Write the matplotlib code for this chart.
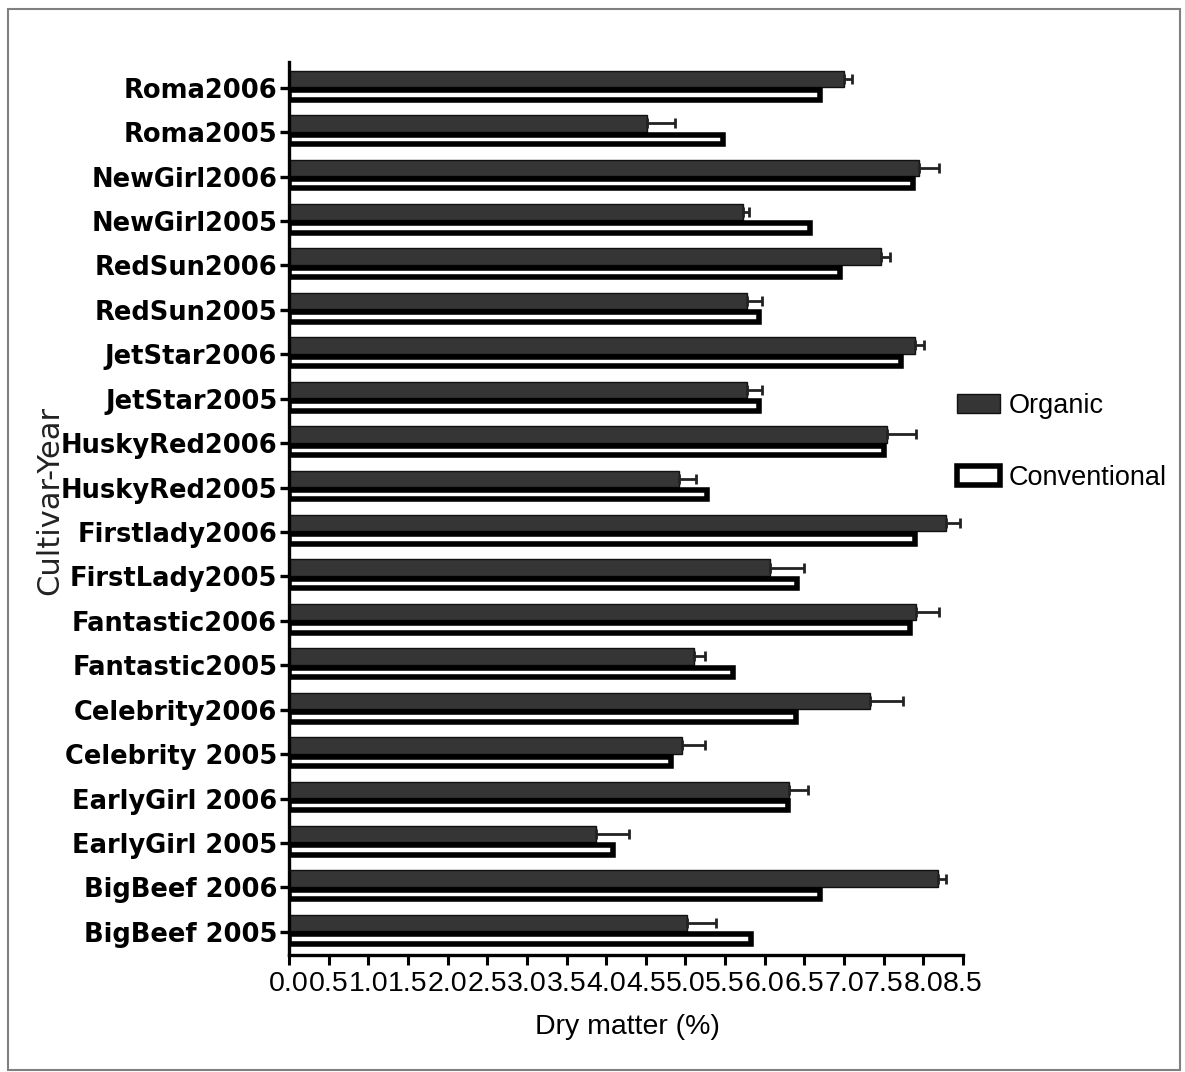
import numpy as np
import matplotlib
matplotlib.use("Agg")
import matplotlib.pyplot as plt
from matplotlib.patches import Rectangle

# ---- data (top to bottom as shown) ----
categories = ["Roma2006", "Roma2005", "NewGirl2006", "NewGirl2005", "RedSun2006",
              "RedSun2005", "JetStar2006", "JetStar2005", "HuskyRed2006", "HuskyRed2005",
              "Firstlady2006", "FirstLady2005", "Fantastic2006", "Fantastic2005",
              "Celebrity2006", "Celebrity 2005", "EarlyGirl 2006", "EarlyGirl 2005",
              "BigBeef 2006", "BigBeef 2005"]
organic = [7.00, 4.51, 7.94, 5.73, 7.47, 5.78, 7.89, 5.78, 7.54, 4.92,
           8.28, 6.07, 7.91, 5.11, 7.33, 4.95, 6.30, 3.87, 8.19, 5.02]
organic_err = [0.10, 0.36, 0.26, 0.07, 0.11, 0.18, 0.12, 0.18, 0.37, 0.21,
               0.18, 0.43, 0.29, 0.14, 0.41, 0.30, 0.24, 0.42, 0.10, 0.37]
conventional = [6.70, 5.47, 7.87, 6.57, 6.95, 5.93, 7.72, 5.93, 7.51, 5.27,
                7.90, 6.41, 7.83, 5.60, 6.40, 4.82, 6.29, 4.08, 6.70, 5.83]
xticks = np.arange(0, 8.51, 0.5)
xtick_labels = ["%.1f" % v for v in xticks]

W, H = 1185, 1072
fig = plt.figure(figsize=(W / 100, H / 100), dpi=100)
fig.patch.set_facecolor("white")

left, right = 289 / W, 963 / W
bottom, top = 1 - 955 / H, 1 - 62 / H
ax = fig.add_axes([left, bottom, right - left, top - bottom])

n = len(categories)
ypos = np.arange(n)[::-1]  # top category highest

org_bars = ax.barh(ypos + 0.20, organic, height=0.37, color="#353535",
                   edgecolor="#111111", linewidth=1.0, label="Organic", zorder=2)
ax.errorbar(organic, ypos + 0.20, xerr=[np.zeros(n), organic_err], fmt="none",
            ecolor="#222222", elinewidth=2.0, capsize=3.5, capthick=2.0, zorder=3)
conv_bars = ax.barh(ypos - 0.16, conventional, height=0.21, color="white",
                    edgecolor="black", linewidth=4.0, label="Conventional", zorder=2)

ax.set_xlim(0, 8.5)
ax.set_ylim(-0.52, 19.58)
ax.set_xticks(xticks)
ax.set_xticklabels(xtick_labels, fontfamily="Liberation Sans", fontsize=20.5)
ax.set_yticks(ypos)
ax.set_yticklabels(categories, fontfamily="DejaVu Sans", fontweight="bold", fontsize=18.5)

for s in ["top", "right"]:
    ax.spines[s].set_visible(False)
for s in ["left", "bottom"]:
    ax.spines[s].set_linewidth(2.4)
    ax.spines[s].set_color("black")
ax.tick_params(axis="x", direction="out", length=7.5, width=2.2, pad=4, colors="black")
ax.tick_params(axis="y", direction="out", length=6.5, width=2.4, pad=2, colors="black")

fig.text(627 / W, 1 - 1027 / H, "Dry matter (%)", ha="center", va="center",
         fontfamily="Liberation Sans", fontsize=20.5)
fig.text(50 / W, 1 - 500 / H, "Cultivar-Year", ha="center", va="center",
         rotation=90, fontfamily="DejaVu Sans", fontsize=22, color="#222222", zorder=0)

leg = ax.legend(handles=[org_bars, conv_bars], loc="center left",
                bbox_to_anchor=(957 / W, 1 - 442 / H), bbox_transform=fig.transFigure,
                frameon=False, prop={"family": "Liberation Sans", "size": 19.5},
                handlelength=1.6, handleheight=0.72, handletextpad=0.3,
                labelspacing=1.7, borderpad=0, borderaxespad=0)

fig.add_artist(Rectangle((8 / W, 1 - 1070 / H), (1180 - 8) / W, (1070 - 9) / H,
                         transform=fig.transFigure, fill=False,
                         edgecolor="#808080", linewidth=1.5))

fig.savefig("out.png", dpi=100, facecolor="white")
